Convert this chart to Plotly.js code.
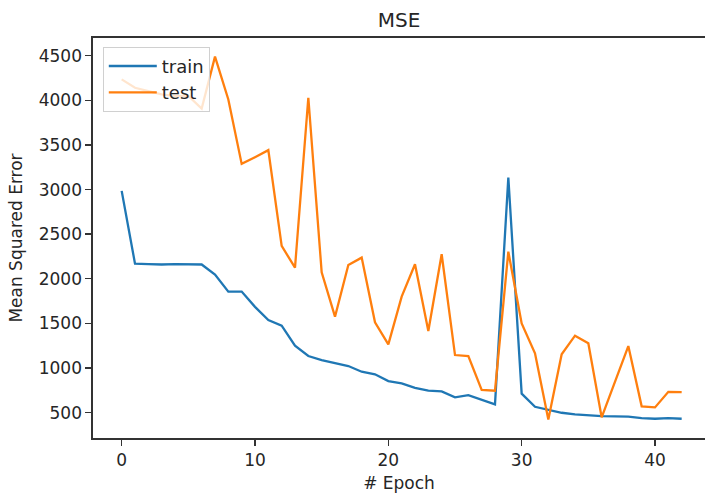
<!DOCTYPE html>
<html>
<head>
<meta charset="utf-8">
<script src="https://cdn.plot.ly/plotly-3.0.1.min.js"></script>
<style>html,body{margin:0;padding:0;background:#fff;overflow:hidden;}</style>
</head>
<body>
<div id="chart" style="width:705px;height:495px;"></div>
<script>
const epochs = [0,1,2,3,4,5,6,7,8,9,10,11,12,13,14,15,16,17,18,19,20,21,22,23,24,25,26,27,28,29,30,31,32,33,34,35,36,37,38,39,40,41,42];
const trainMSE = [2985,2170,2165,2160,2165,2165,2160,2048,1856,1856,1685,1538,1474,1250,1134,1089,1059,1022,958,929,853,827,778,745,738,670,696,640,592,3135,712,565,528,498,480,468,461,457,454,438,431,438,431];
const testMSE = [4235,4141,4104,4066,4048,4051,3909,4490,4010,3288,3363,3442,2368,2125,4029,2073,1575,2155,2237,1512,1265,1800,2163,1414,2275,1145,1134,753,745,2304,1500,1164,423,1153,1362,1276,446,846,1246,570,558,733,730];
const seriesNames = ['train', 'test'];
const xTicks = [0,10,20,30,40];
const yTicks = [500,1000,1500,2000,2500,3000,3500,4000,4500];

const FONT = 'DejaVu Sans, sans-serif';
const TXT = '#262626';

const traces = [
  {x: epochs, y: trainMSE, name: seriesNames[0], type: 'scatter', mode: 'lines',
   line: {color: '#1f77b4', width: 2.3}},
  {x: epochs, y: testMSE, name: seriesNames[1], type: 'scatter', mode: 'lines',
   line: {color: '#ff7f0e', width: 2.3}}
];

const layout = {
  width: 705, height: 495,
  margin: {l: 93, r: 0, t: 38, b: 57},
  paper_bgcolor: '#fff', plot_bgcolor: '#fff',
  font: {family: FONT, size: 17, color: TXT},
  title: {text: 'MSE', font: {family: FONT, size: 20, color: TXT},
          x: 0.5, xref: 'paper', y: 1 - 20/495, yref: 'container', yanchor: 'middle'},
  xaxis: {
    range: [-2.15, 43.75], tickvals: xTicks, ticktext: xTicks.map(String),
    ticks: 'outside', ticklen: 6, tickwidth: 1.4, tickcolor: '#333',
    showline: true, linecolor: '#333', linewidth: 1.6, mirror: true,
    showgrid: false, zeroline: false,
    tickfont: {family: FONT, size: 17, color: TXT},
    title: {text: '# Epoch', font: {family: FONT, size: 17, color: TXT}, standoff: 8}
  },
  yaxis: {
    range: [215, 4699], tickvals: yTicks, ticktext: yTicks.map(String),
    ticks: 'outside', ticklen: 6, tickwidth: 1.4, tickcolor: '#333',
    showline: true, linecolor: '#333', linewidth: 1.6, mirror: false,
    showgrid: false, zeroline: false,
    tickfont: {family: FONT, size: 17, color: TXT},
    title: {text: 'Mean Squared Error', font: {family: FONT, size: 17, color: TXT}, standoff: 12}
  },
  showlegend: true,
  legend: {
    x: 0.016, y: 0.978, xanchor: 'left', yanchor: 'top',
    bgcolor: 'rgba(255,255,255,0.8)', bordercolor: '#d0d0d0', borderwidth: 1,
    font: {family: FONT, size: 18, color: TXT},
    itemwidth: 48,
    tracegroupgap: 0
  }
};

Plotly.newPlot('chart', traces, layout, {displayModeBar: false, staticPlot: true});
</script>
</body>
</html>
